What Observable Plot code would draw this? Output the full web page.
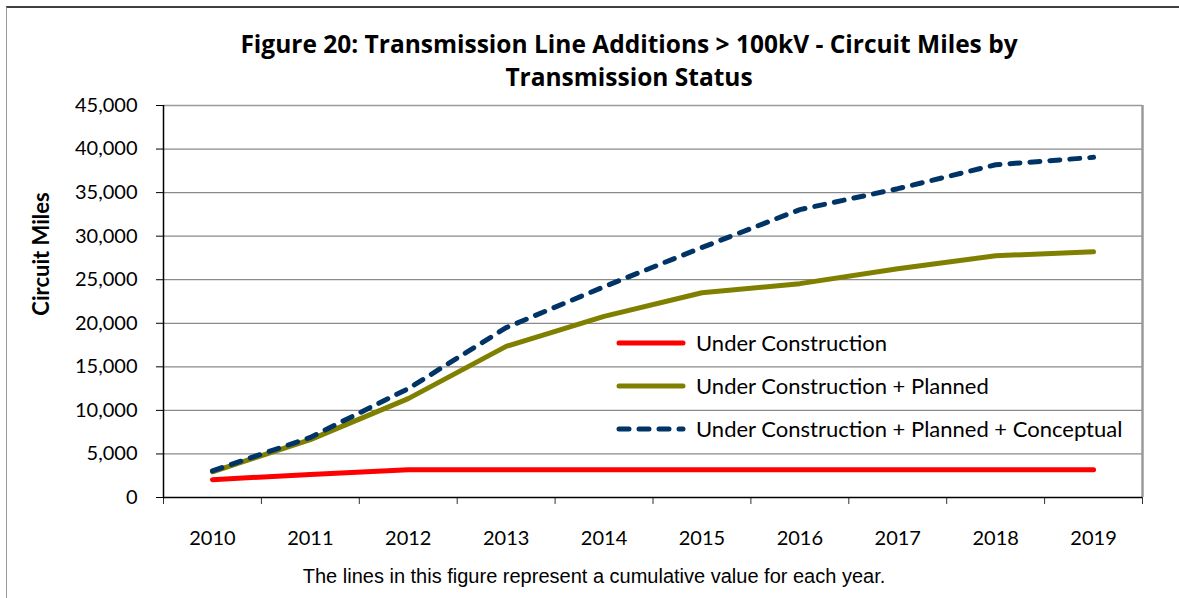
<!DOCTYPE html>
<html>
<head>
<meta charset="utf-8">
<script src="https://cdn.jsdelivr.net/npm/d3@7"></script>
<script src="https://cdn.jsdelivr.net/npm/@observablehq/plot@0.6"></script>
<style>
  html, body { margin: 0; padding: 0; background: #fff; }
  #page { position: relative; width: 1179px; height: 598px; overflow: hidden; font-family: Lato, "Noto Sans", sans-serif; }
  #frame { position: absolute; left: 6px; top: 6px; width: 1300px; height: 700px; border-left: 1px solid #9a9a9a; border-top: 2px solid #404040; }
  #title { position: absolute; left: 0; top: 27px; width: 1258px; text-align: center; font-family: "Open Sans", Lato, sans-serif; font-weight: bold; font-size: 24.5px; line-height: 33px; color: #000; }
  #chart { position: absolute; left: 0; top: 95px; }
  #ylabel { position: absolute; left: 40px; top: 254px; transform: translate(-50%, -50%) rotate(-90deg); font-weight: bold; font-size: 22px; white-space: nowrap; }
  #caption { position: absolute; left: 0; top: 565px; width: 1188px; text-align: center; font-family: "Liberation Sans", Arial, sans-serif; font-size: 20px; }
  #legend { position: absolute; left: 612px; top: 321px; }
  .row { position: relative; height: 43px; display: flex; align-items: center; }
  .row svg { margin-right: 6px; }
  .row span { font-size: 22px; white-space: nowrap; }
</style>
</head>
<body>
<div id="page">
  <div id="frame"></div>
  <div id="title">Figure 20: Transmission Line Additions &gt; 100kV - Circuit Miles by<br>Transmission Status</div>
  <div id="chart"></div>
  <div id="ylabel">Circuit Miles</div>
  <div id="legend"></div>
  <div id="caption">The lines in this figure represent a cumulative value for each year.</div>
</div>
<script>
const years = [2010, 2011, 2012, 2013, 2014, 2015, 2016, 2017, 2018, 2019];
const underConstruction = [2050, 2640, 3180, 3180, 3180, 3180, 3180, 3180, 3180, 3180];
const underConstructionPlanned = [2950, 6650, 11350, 17350, 20800, 23500, 24550, 26250, 27750, 28200];
const underConstructionPlannedConceptual = [3050, 6900, 12500, 19500, 24200, 28700, 33050, 35450, 38200, 39050];
const seriesNames = ["Under Construction", "Under Construction + Planned", "Under Construction + Planned + Conceptual"];
const seriesColors = ["#ff0000", "#808000", "#003366"];
const yTicks = [0, 5000, 10000, 15000, 20000, 25000, 30000, 35000, 40000, 45000];

const seriesValues = [underConstruction, underConstructionPlanned, underConstructionPlannedConceptual];
const tables = seriesValues.map((vals, i) => years.map((yr, j) => ({year: yr, value: vals[j], series: seriesNames[i]})));
const boundaries = years.map(y => y - 0.5).concat([years[years.length - 1] + 0.5]);

const lineOpts = {x: "year", y: "value", strokeWidth: 5, strokeLinecap: "round", strokeLinejoin: "round"};

const chart = Plot.plot({
  width: 1179,
  height: 465,
  marginLeft: 163,
  marginRight: 37,
  marginTop: 10,
  marginBottom: 63,
  x: {type: "linear", domain: [boundaries[0], boundaries[boundaries.length - 1]]},
  y: {domain: [0, 45000]},
  style: {fontFamily: "Lato, 'Noto Sans', sans-serif", fontSize: "20px", color: "#000", background: "transparent", overflow: "visible"},
  marks: [
    Plot.gridY(yTicks, {stroke: "#8a8a8a", strokeOpacity: 1, strokeWidth: 1.2}),
    Plot.axisY({ticks: yTicks, tickSize: 7, tickPadding: 19, tickFormat: d3.format(","), label: null, fontSize: 20, stroke: "#000"}),
    Plot.axisX({ticks: boundaries, tickSize: 7, tickFormat: () => "", label: null, stroke: "#333"}),
    Plot.axisX({ticks: years, tickSize: 0, tickPadding: 33, tickFormat: d => String(d), label: null, fontSize: 20}),
    Plot.ruleX([boundaries[boundaries.length - 1]], {stroke: "#9a9a9a", strokeWidth: 2.5}),
    Plot.ruleY([45000], {stroke: "#9a9a9a", strokeWidth: 1.5}),
    Plot.ruleX([boundaries[0]], {stroke: "#000", strokeWidth: 1.5}),
    Plot.ruleY([0], {stroke: "#000", strokeWidth: 1.5}),
    Plot.line(tables[0], {...lineOpts, stroke: seriesColors[0]}),
    Plot.line(tables[1], {...lineOpts, stroke: seriesColors[1]}),
    Plot.line(tables[2], {...lineOpts, stroke: seriesColors[2], strokeDasharray: "10,10"})
  ]
});
document.getElementById("chart").appendChild(chart);

const legend = document.getElementById("legend");
seriesNames.forEach((name, i) => {
  const row = document.createElement("div");
  row.className = "row";
  const dash = i === 2 ? ' stroke-dasharray="10,10"' : '';
  row.innerHTML = `<svg width="78" height="10"><line x1="7" y1="5" x2="71" y2="5" stroke="${seriesColors[i]}" stroke-width="5" stroke-linecap="round"${dash}/></svg><span>${name}</span>`;
  legend.appendChild(row);
});
</script>
</body>
</html>
